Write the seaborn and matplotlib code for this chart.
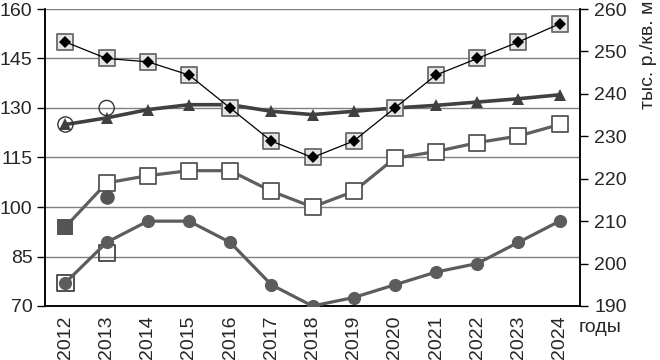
import numpy as np
import pandas as pd
import matplotlib
matplotlib.use("Agg")
import matplotlib.pyplot as plt
import seaborn as sns

years = list(range(2012, 2025))
diamond_vals = [150, 145, 144, 140, 130, 120, 115, 120, 130, 140, 145, 150, 155.5]
triangle_vals = [125, 127, 129.5, 131, 131, 129, 128, 129, 130, 130.8, 131.8, 132.8, 134]
square_vals = [94, 107.3, 109.5, 111, 111, 104.8, 100, 104.7, 114.8, 116.8, 119.5, 121.5, 125]
circle_rub = [195.5, 205, 210, 210, 205, 195, 190, 192, 195, 198, 200, 205, 210]

# single extra points
open_circle_years = [2012, 2013]
open_circle_vals = [125, 130]
low_square_years = [2012, 2013]
low_square_vals = [77, 86]
dot_years = [2013]
dot_vals = [103]

left_ticks = [70, 85, 100, 115, 130, 145, 160]
right_ticks = [190, 200, 210, 220, 230, 240, 250, 260]

sns.set_style("white")
plt.rcParams["font.family"] = ["Liberation Sans", "DejaVu Sans"]
FS = 14

df = pd.DataFrame({"year": years, "diamond": diamond_vals, "triangle": triangle_vals,
                   "square": square_vals, "circle": circle_rub})

fig = plt.figure(figsize=(6.6, 3.6), dpi=100)
ax = fig.add_axes([0.068, 0.15, 0.811, 0.825])
ax2 = ax.twinx()

ax.set_ylim(70, 160)
ax.set_xlim(2011.5, 2024.5)
ax2.set_ylim(190, 260)

for t in left_ticks:
    ax.axhline(t, color="#7f7f7f", lw=1, zorder=0)

# circle series on the rouble axis
sns.lineplot(data=df, x="year", y="circle", ax=ax2, color="#5c5c5c", lw=2.3,
             marker="o", markersize=9.5, markeredgewidth=0, zorder=3)

# square series
sns.lineplot(data=df, x="year", y="square", ax=ax, color="#5f5f5f", lw=2.3, zorder=3)
sq = df[df["year"] > 2012]
sns.scatterplot(x=sq["year"], y=sq["square"], ax=ax, marker="s", s=125,
                facecolor="white", edgecolor="#555555", linewidth=1.3, zorder=4)
sns.scatterplot(x=[years[0]], y=[square_vals[0]], ax=ax, marker="s", s=130,
                color="#555555", linewidth=0, zorder=4)
sns.scatterplot(x=dot_years, y=dot_vals, ax=ax, marker="o", s=110,
                color="#555555", linewidth=0, zorder=4)
sns.scatterplot(x=low_square_years, y=low_square_vals, ax=ax, marker="s", s=135,
                facecolor="none", edgecolor="#444444", linewidth=1.3, zorder=5)

# triangle series
sns.lineplot(data=df, x="year", y="triangle", ax=ax, color="#404040", lw=2.6,
             marker="^", markersize=8.5, markeredgewidth=0, zorder=5)
sns.scatterplot(x=open_circle_years, y=open_circle_vals, ax=ax, marker="o", s=120,
                facecolor="none", edgecolor="#333333", linewidth=1.0, zorder=6)

# diamond series with open squares
sns.scatterplot(data=df, x="year", y="diamond", ax=ax, marker="s", s=135,
                facecolor="#e6e6e6", edgecolor="#6a6a6a", linewidth=1.3, zorder=6)
sns.lineplot(data=df, x="year", y="diamond", ax=ax, color="black", lw=0.9,
             marker="D", markersize=6.5, markeredgewidth=0, zorder=7)

for a in (ax, ax2):
    a.set_xlabel("")
    a.set_ylabel("")
    a.spines["top"].set_visible(False)
    for s in a.spines.values():
        s.set_color("black")
        s.set_linewidth(1.1)

ax.set_yticks(left_ticks)
ax.set_yticklabels([str(t) for t in left_ticks], fontsize=FS)
ax.tick_params(axis="y", direction="out", length=6, width=1, pad=3, color="black")
ax2.set_yticks(right_ticks)
ax2.set_yticklabels([str(t) for t in right_ticks], fontsize=FS)
ax2.tick_params(axis="y", direction="out", length=6, width=1, pad=4, color="black")

ax.set_xticks(years)
ax.set_xticklabels([str(y) for y in years], rotation=90, fontsize=FS)
ax.set_xticks(np.arange(2011.5, 2025, 1), minor=True)
ax.tick_params(axis="x", which="major", length=0, pad=7)
ax.tick_params(axis="x", which="minor", direction="out", length=6, width=1, color="black")

fig.text(0.876, 0.09, "годы", fontsize=FS, ha="left", va="center")
fig.text(0.983, 0.998, "тыс. р./кв. м", fontsize=FS, rotation=90, ha="center", va="top")

fig.savefig("out.png", dpi=100)
